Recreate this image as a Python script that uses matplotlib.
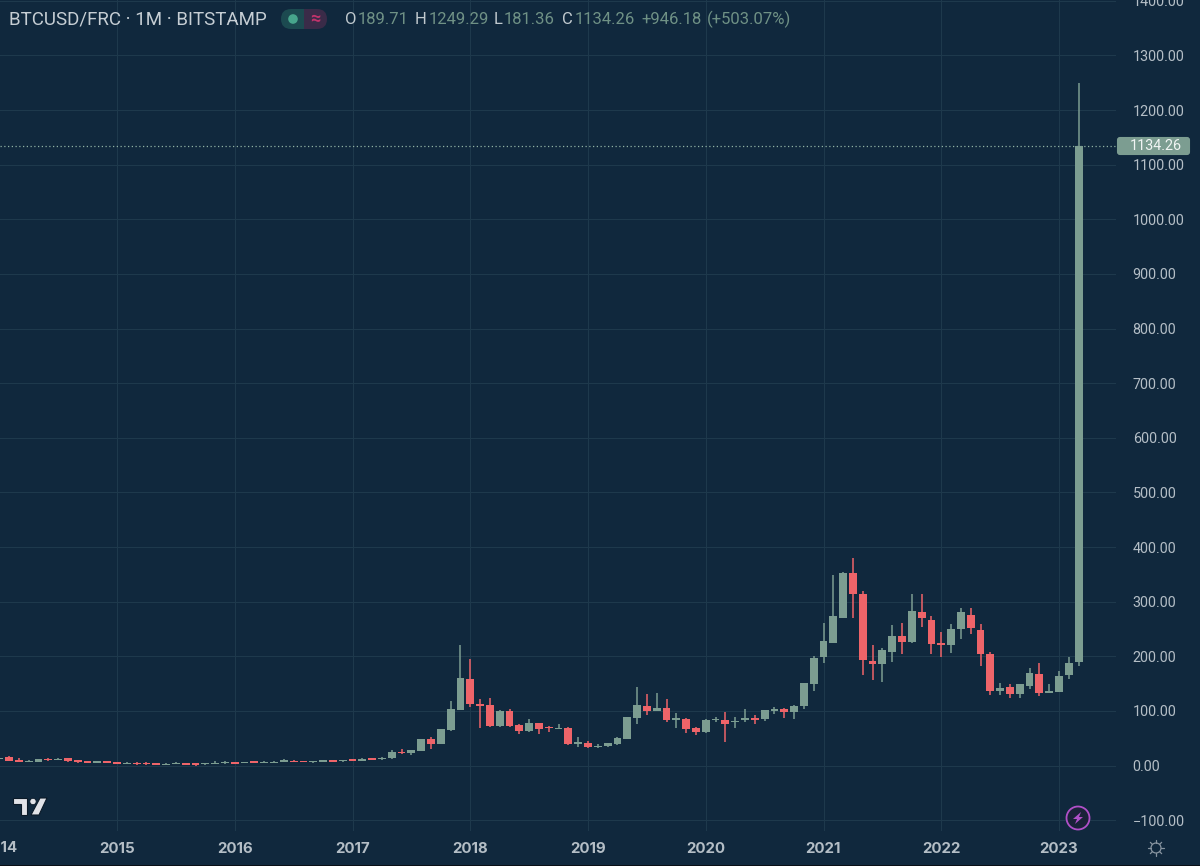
import matplotlib
matplotlib.use("Agg")
import matplotlib.pyplot as plt
import matplotlib.patches as mpatches
import numpy as np

plt.rcParams["font.family"] = ["Roboto", "DejaVu Sans"]

# monthly candles, Jan 2014 .. Mar 2023
opens = [
    12.5, 16.2, 10.1, 6.4, 7.0, 12.5, 10.7, 13.1, 9.5, 7.6, 5.2, 7.6,
    5.8, 2.8, 5.2, 5.2, 4.0, 1.5, 2.8, 4.0, 4.0, 2.1, 2.8, 4.0,
    6.4, 4.6, 7.6, 4.6, 5.2, 6.4, 8.9, 8.2, 5.8, 7.0, 9.5, 7.6,
    11.3, 8.9, 13.1, 11.3, 13.1, 25.3, 22.9, 27.2, 48.5, 40.0, 64.4, 102.2,
    158.4, 112.0, 111.4, 72.9, 99.8, 73.5, 63.2, 77.8, 70.5, 66.8, 68.7, 40.0,
    41.8, 33.3, 35.1, 38.8, 48.5, 87.6, 108.3, 99.8, 105.9, 83.9, 85.1, 68.0,
    60.7, 82.7, 83.9, 79.7, 82.7, 87.6, 85.0, 100.4, 104.0, 97.4, 109.6, 148.6,
    199.0, 225.0, 269.5, 353.0, 313.4, 191.0, 185.0, 207.8, 236.5, 225.5, 281.0, 266.0,
    223.7, 220.7, 250.5, 275.6, 247.5, 204.0, 136.4, 143.8, 131.5, 145.6, 168.0, 133.4,
    134.6, 165.7, 189.71,
]
highs = [
    15.0, 16.8, 13.1, 9.5, 11.9, 13.0, 13.1, 13.7, 10.0, 8.2, 8.0, 8.0,
    6.4, 5.8, 5.8, 5.8, 4.4, 3.8, 5.6, 4.4, 4.4, 5.0, 7.6, 8.2,
    7.0, 6.8, 8.0, 7.4, 7.4, 11.3, 9.3, 8.6, 8.6, 9.9, 9.9, 10.5,
    11.7, 12.9, 14.5, 15.0, 29.0, 30.2, 29.0, 48.3, 51.6, 66.6, 117.5, 221.2,
    195.0, 121.8, 124.2, 102.2, 104.0, 75.4, 85.1, 77.8, 73.0, 75.4, 70.5, 51.6,
    45.5, 38.8, 41.0, 52.2, 88.6, 143.1, 130.3, 132.1, 122.4, 95.5, 87.0, 69.9,
    85.0, 88.2, 97.4, 89.4, 102.8, 93.0, 101.4, 107.0, 106.0, 111.0, 151.7, 200.0,
    261.0, 348.0, 354.0, 379.0, 319.5, 220.0, 214.5, 256.7, 261.0, 313.4, 313.4, 273.7,
    244.5, 259.0, 288.0, 288.0, 258.5, 207.0, 151.0, 148.6, 148.6, 178.0, 187.0, 148.6,
    172.4, 198.7, 1249.29,
]
lows = [
    12.0, 7.6, 6.4, 6.0, 6.4, 9.0, 10.1, 7.0, 5.2, 4.0, 4.6, 4.0,
    2.0, 2.4, 1.5, 1.5, 1.0, 1.2, 2.4, 0.5, 0.0, 1.8, 2.4, 3.6,
    3.0, 4.2, 4.2, 4.2, 4.8, 6.0, 6.6, 6.0, 5.4, 6.6, 6.6, 7.2,
    8.5, 8.5, 10.2, 10.9, 12.7, 20.4, 19.8, 26.0, 30.8, 39.0, 62.6, 101.6,
    106.5, 68.7, 71.1, 71.1, 70.5, 58.3, 62.0, 57.7, 60.7, 66.4, 37.0, 33.9,
    32.7, 32.0, 34.7, 38.4, 48.1, 76.0, 92.5, 99.4, 79.7, 68.7, 60.0, 55.2,
    60.3, 79.0, 43.0, 68.7, 79.7, 76.6, 82.0, 93.7, 87.6, 86.0, 103.0, 137.0,
    188.0, 224.0, 269.5, 270.0, 165.0, 156.6, 152.0, 190.0, 205.0, 225.0, 254.0, 204.8,
    199.0, 206.6, 231.6, 240.0, 181.6, 129.0, 129.7, 123.6, 124.0, 140.7, 126.7, 133.4,
    134.6, 159.0, 181.36,
]
closes = [
    14.0, 8.9, 7.0, 8.9, 11.3, 9.5, 12.5, 7.6, 5.8, 4.6, 7.6, 4.6,
    2.8, 5.2, 2.1, 2.1, 1.5, 3.4, 5.2, 0.9, 0.3, 4.6, 5.2, 5.8,
    3.4, 6.4, 4.6, 7.0, 7.0, 9.5, 7.0, 6.4, 8.2, 9.5, 7.0, 10.1,
    8.9, 12.5, 10.7, 14.4, 24.1, 22.3, 27.8, 47.9, 40.0, 66.2, 104.0, 159.6,
    112.6, 109.0, 72.9, 99.2, 72.9, 63.8, 77.8, 67.5, 68.0, 69.3, 38.8, 42.4,
    33.9, 35.7, 40.6, 49.8, 88.2, 110.2, 99.8, 105.9, 83.9, 86.4, 67.5, 60.7,
    83.9, 85.1, 76.6, 82.0, 87.0, 83.9, 101.0, 103.5, 98.0, 109.6, 151.0, 197.0,
    228.0, 274.0, 352.5, 314.6, 193.8, 186.0, 212.0, 236.5, 226.0, 283.5, 270.0, 222.0,
    220.7, 249.3, 280.5, 251.8, 204.0, 137.0, 142.5, 131.0, 148.6, 170.0, 133.4, 135.8,
    163.9, 187.7, 1134.26,
]
price_ticks = [-100, 0, 100, 200, 300, 400, 500, 600, 700, 800, 900, 1000,
               1100, 1200, 1300, 1400]
year_labels = ["2014", "2015", "2016", "2017", "2018", "2019", "2020", "2021",
               "2022", "2023"]

BG = "#10283d"
GRID = "#1e394c"
UP = "#7c9d91"
DOWN = "#ee6469"
LABEL = "#b4bec6"
W, H = 1200, 866

fig = plt.figure(figsize=(W / 100, H / 100), dpi=100, facecolor=BG)
ax = fig.add_axes([0, 1 - 831 / H, 1116 / W, 831 / H], facecolor=BG)

o = np.array(opens)
h = np.array(highs)
l = np.array(lows)
c = np.array(closes)
x = np.arange(len(o))
colors = [UP if ci >= oi else DOWN for oi, ci in zip(o, c)]

ax.vlines(x, l, h, colors=colors, linewidth=1.1, zorder=3)
ax.bar(x, np.maximum(np.abs(c - o), 1.4), bottom=np.minimum(o, c), width=0.8,
       color=colors, linewidth=0, zorder=4)

# scale: 2015 tick sits at 117px, one month is 9.8125px; 0.00 at 765.5px
ax.set_xlim((0 + 0.75) / 9.8125, (1116 + 0.75) / 9.8125)
ax.set_ylim((765.5 - 831) / 0.5462, 765.5 / 0.5462)

ax.set_yticks(price_ticks)
ax.set_yticklabels([f"{v:.2f}".replace("-", "\u2212") for v in price_ticks],
                   fontsize=10.4, color=LABEL)
ax.yaxis.tick_right()
year_pos = [12 * i for i in range(len(year_labels))]
ax.set_xticks(year_pos[1:])
ax.set_xticklabels(year_labels[1:], fontsize=10.8, color=LABEL, family="Inter",
                   fontweight="bold")
ax.tick_params(axis="both", length=0)
ax.tick_params(axis="y", pad=12)
ax.tick_params(axis="x", pad=8)
ax.grid(True, color=GRID, linewidth=0.8, zorder=0)
ax.set_axisbelow(True)
for s in ax.spines.values():
    s.set_visible(False)

# last price line
ax.axhline(c[-1], color="#8fb0a3", linewidth=0.9, linestyle=(0, (1, 2)), zorder=2)

# overlay in pixel coordinates for the chrome around the chart
ov = fig.add_axes([0, 0, 1, 1], facecolor="none")
ov.set_xlim(0, W)
ov.set_ylim(H, 0)
ov.axis("off")

ov.text(x[0] * 9.8125 - 0.75, 848, year_labels[0], fontsize=10.8, color=LABEL,
        family="Inter", fontweight="bold", ha="center", va="center")

ov.add_patch(mpatches.FancyBboxPatch((1118, 138), 71, 16,
                                     boxstyle="round,pad=0,rounding_size=2",
                                     facecolor=UP, edgecolor=UP, linewidth=1.5))
ov.text(1156, 146.5, f"{c[-1]:.2f}", fontsize=10.4, color="#f0f4f3",
        ha="center", va="center")

# header
ov.text(9, 19.5, "BTCUSD/FRC \u00b7 1M \u00b7 BITSTAMP", fontsize=13.5, color="#c6ced4",
        va="center")
ov.add_patch(mpatches.FancyBboxPatch((281, 9), 23, 20,
                                     boxstyle="round,pad=0,rounding_size=10",
                                     facecolor="#1c4a50", edgecolor="none"))
ov.add_patch(mpatches.FancyBboxPatch((304, 9), 23, 20,
                                     boxstyle="round,pad=0,rounding_size=10",
                                     facecolor="#3a2b48", edgecolor="none"))
ov.add_patch(mpatches.Rectangle((293, 9), 11, 20, facecolor="#1c4a50", edgecolor="none"))
ov.add_patch(mpatches.Rectangle((304, 9), 11, 20, facecolor="#3a2b48", edgecolor="none"))
ov.add_patch(mpatches.Circle((293, 19), 4.8, facecolor="#47a58c", edgecolor="none"))
ov.text(315, 19, "\u2248", fontsize=13, color="#c2336c", ha="center", va="center",
        fontweight="bold")
for px, letter in [(345, "O"), (415, "H"), (494, "L"), (562, "C")]:
    ov.text(px, 19.5, letter, fontsize=12, color="#c0c9ce", va="center")
for px, val in [(358, f"{o[-1]:.2f}"), (429, f"{h[-1]:.2f}"), (504, f"{l[-1]:.2f}"),
                (575, f"{c[-1]:.2f}"), (641, "+946.18"), (707, "(+503.07%)")]:
    ov.text(px, 19.5, val, fontsize=12, color="#6f9185", va="center")

# tradingview logo
logo = "#e1e3e8"
ov.add_patch(mpatches.Polygon([(12.5, 798), (27, 798), (27, 815), (21, 815), (21, 804),
                               (12.5, 804)], facecolor=logo, edgecolor="#0b1a28",
                              linewidth=0.8))
ov.add_patch(mpatches.Circle((33, 801.5), 3.2, facecolor=logo, edgecolor="#0b1a28",
                             linewidth=0.6))
ov.add_patch(mpatches.Polygon([(40, 798), (47, 798), (39, 815), (31, 815)],
                              facecolor=logo, edgecolor="#0b1a28", linewidth=0.8))

# lightning badge
ov.add_patch(mpatches.Circle((1078, 818), 11.5, facecolor="#1a2238", edgecolor="#b050c8",
                             linewidth=1.3))
ov.add_patch(mpatches.Polygon([(1081, 812), (1073, 819), (1077, 819), (1075, 824),
                               (1083, 817), (1079, 817)], facecolor="#b050c8",
                              edgecolor="none"))

# settings sun
ov.add_patch(mpatches.Circle((1156, 848), 5, facecolor="none", edgecolor="#8794a0",
                             linewidth=0.9))
for ang in np.arange(0, 2 * np.pi, np.pi / 4):
    ov.plot([1156 + 5 * np.cos(ang), 1156 + 8 * np.cos(ang)],
            [848 + 5 * np.sin(ang), 848 + 8 * np.sin(ang)],
            color="#8794a0", linewidth=0.9, solid_capstyle="round")

ov.add_patch(mpatches.Rectangle((0, 865), W, 1, facecolor="#0a0f16", edgecolor="none"))

fig.savefig("out.png", dpi=100, facecolor=BG)
